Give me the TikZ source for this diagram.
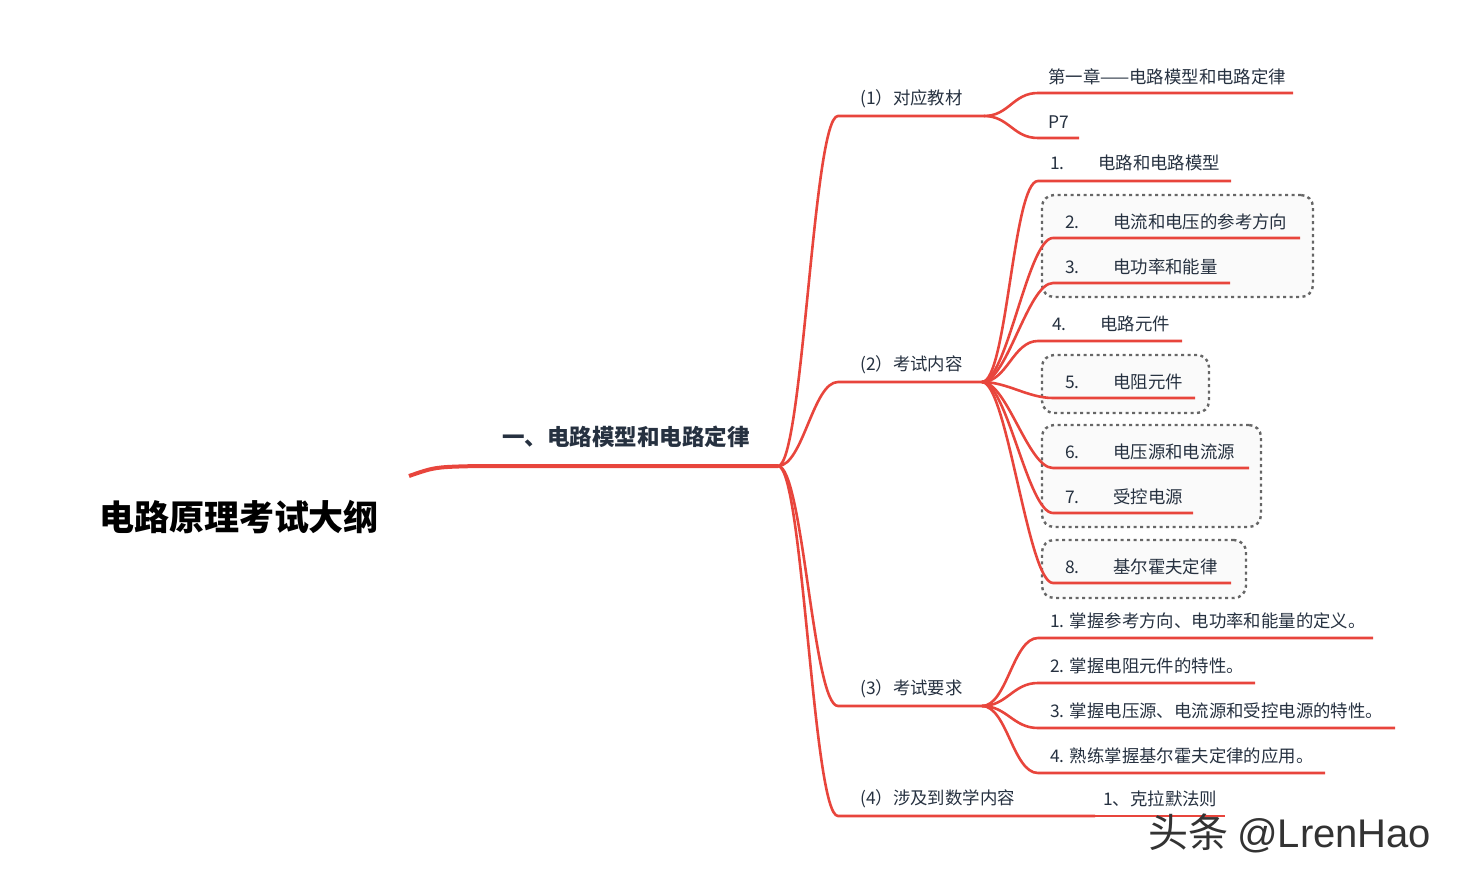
\documentclass[tikz,border=0pt]{standalone}
\usepackage{fontspec}
\setmainfont{Noto Sans CJK SC}
\newfontfamily\wmfont{Liberation Sans}
\definecolor{mmred}{HTML}{E8453C}
\definecolor{mmtext}{HTML}{263140}
\definecolor{mmgrey}{HTML}{666666}
\newcommand{\inum}[1]{\makebox[48pt][l]{#1}}

\begin{document}
\begin{tikzpicture}[x=1pt,y=-1pt,
    br/.style={draw=mmred,line width=2.6pt},
    tnode/.style={anchor=west,inner sep=0pt,text=mmtext,font=\fontsize{17.4}{19}\selectfont},
    gbox/.style={draw=mmgrey,fill=black!2,line width=2.4pt,dash pattern=on 3pt off 3.5pt,rounded corners=12pt}]
    \useasboundingbox (0,0) rectangle (1457,880);

    % boxes behind the branches
    \node[gbox,minimum width=271,minimum height=102] (gA) at (1177.5,246) {};
    \node[gbox,minimum width=167,minimum height=58] (gB) at (1125.5,384) {};
    \node[gbox,minimum width=219,minimum height=102] (gC) at (1151.5,476) {};
    \node[gbox,minimum width=204,minimum height=58] (gD) at (1144,569) {};

    \node (root) at (239,517) [text=black,font=\fontsize{35}{40}\selectfont\bfseries] {电路原理考试大纲};
    \node (ch1) at (626,437) [text=mmtext,font=\fontsize{22.5}{26}\selectfont\bfseries] {一、电路模型和电路定律};

    \coordinate (r0) at (409,476);
    \coordinate (l1a) at (478,466);
    \coordinate (f0) at (778,466);
    \draw[br,line width=4pt] (r0) .. controls (435,467) .. (l1a) -- (f0);

    % second level
    \node[tnode] (s1) at (860,99) {(1）对应教材};
    \node[tnode] (s2) at (860,365) {(2）考试内容};
    \node[tnode] (s3) at (860,689) {(3）考试要求};
    \node[tnode] (s4) at (860,799) {(4）涉及到数学内容};
    \coordinate (s1a) at (838,116); \coordinate (f1) at (984,116);
    \coordinate (s2a) at (838,382); \coordinate (f2) at (982,382);
    \coordinate (s3a) at (838,706); \coordinate (f3) at (982,706);
    \coordinate (s4a) at (838,816); \coordinate (f4) at (1095,816);

    \draw[br] (f0) .. controls +(25,0) and +(-25,0) .. (s1a) -- (f1);
    \draw[br] (f0) .. controls +(25,0) and +(-25,0) .. (s2a) -- (f2);
    \draw[br] (f0) .. controls +(25,0) and +(-25,0) .. (s3a) -- (f3);
    \draw[br] (f0) .. controls +(25,0) and +(-25,0) .. (s4a) -- (f4);

    % (1)
    \node[tnode] (b1) at (1048,77) {第一章——电路模型和电路定律};
    \node[tnode] (b2) at (1048,122) {P7};
    \coordinate (b1a) at (1038,93); \coordinate (b1b) at (1293,93);
    \coordinate (b2a) at (1038,138); \coordinate (b2b) at (1079,138);
    \draw[br] (f1) .. controls +(25,0) and +(-25,0) .. (b1a) -- (b1b);
    \draw[br] (f1) .. controls +(25,0) and +(-25,0) .. (b2a) -- (b2b);

    % (2)
    \node[tnode] (c1) at (1050,163) {\inum{1.}电路和电路模型};
    \node[tnode] (c2) at (1065,222) {\inum{2.}电流和电压的参考方向};
    \node[tnode] (c3) at (1065,267) {\inum{3.}电功率和能量};
    \node[tnode] (c4) at (1052,324) {\inum{4.}电路元件};
    \node[tnode] (c5) at (1065,382) {\inum{5.}电阻元件};
    \node[tnode] (c6) at (1065,452) {\inum{6.}电压源和电流源};
    \node[tnode] (c7) at (1065,497) {\inum{7.}受控电源};
    \node[tnode] (c8) at (1065,567) {\inum{8.}基尔霍夫定律};
    \coordinate (c1a) at (1038,181); \coordinate (c1b) at (1231,181);
    \coordinate (c2a) at (1053,238); \coordinate (c2b) at (1300,238);
    \coordinate (c3a) at (1053,283); \coordinate (c3b) at (1230,283);
    \coordinate (c4a) at (1038,341); \coordinate (c4b) at (1182,341);
    \coordinate (c5a) at (1053,398); \coordinate (c5b) at (1195,398);
    \coordinate (c6a) at (1053,468); \coordinate (c6b) at (1249,468);
    \coordinate (c7a) at (1053,513); \coordinate (c7b) at (1193,513);
    \coordinate (c8a) at (1053,583); \coordinate (c8b) at (1231,583);
    \draw[br] (f2) .. controls +(25,0) and +(-25,0) .. (c1a) -- (c1b);
    \draw[br] (f2) .. controls +(25,0) and +(-25,0) .. (c2a) -- (c2b);
    \draw[br] (f2) .. controls +(25,0) and +(-25,0) .. (c3a) -- (c3b);
    \draw[br] (f2) .. controls +(25,0) and +(-25,0) .. (c4a) -- (c4b);
    \draw[br] (f2) .. controls +(25,0) and +(-25,0) .. (c5a) -- (c5b);
    \draw[br] (f2) .. controls +(25,0) and +(-25,0) .. (c6a) -- (c6b);
    \draw[br] (f2) .. controls +(25,0) and +(-25,0) .. (c7a) -- (c7b);
    \draw[br] (f2) .. controls +(25,0) and +(-25,0) .. (c8a) -- (c8b);

    % (3)
    \node[tnode] (d1) at (1050,621) {1. 掌握参考方向、电功率和能量的定义。};
    \node[tnode] (d2) at (1050,666) {2. 掌握电阻元件的特性。};
    \node[tnode] (d3) at (1050,711) {3. 掌握电压源、电流源和受控电源的特性。};
    \node[tnode] (d4) at (1050,756) {4. 熟练掌握基尔霍夫定律的应用。};
    \coordinate (d1a) at (1038,638); \coordinate (d1b) at (1373,638);
    \coordinate (d2a) at (1038,683); \coordinate (d2b) at (1255,683);
    \coordinate (d3a) at (1038,728); \coordinate (d3b) at (1395,728);
    \coordinate (d4a) at (1038,773); \coordinate (d4b) at (1325,773);
    \draw[br] (f3) .. controls +(25,0) and +(-25,0) .. (d1a) -- (d1b);
    \draw[br] (f3) .. controls +(25,0) and +(-25,0) .. (d2a) -- (d2b);
    \draw[br] (f3) .. controls +(25,0) and +(-25,0) .. (d3a) -- (d3b);
    \draw[br] (f3) .. controls +(25,0) and +(-25,0) .. (d4a) -- (d4b);

    % (4)
    \node[tnode] (e1) at (1103,799) {1、克拉默法则};
    \coordinate (e1b) at (1225,816);
    \draw[br] (f4) -- (e1b);

    \node (wm) at (1148,833) [anchor=west,inner sep=0pt,text=black!80,font=\fontsize{40}{44}\selectfont] {头条 {\wmfont @LrenHao}};
\end{tikzpicture}
\end{document}
